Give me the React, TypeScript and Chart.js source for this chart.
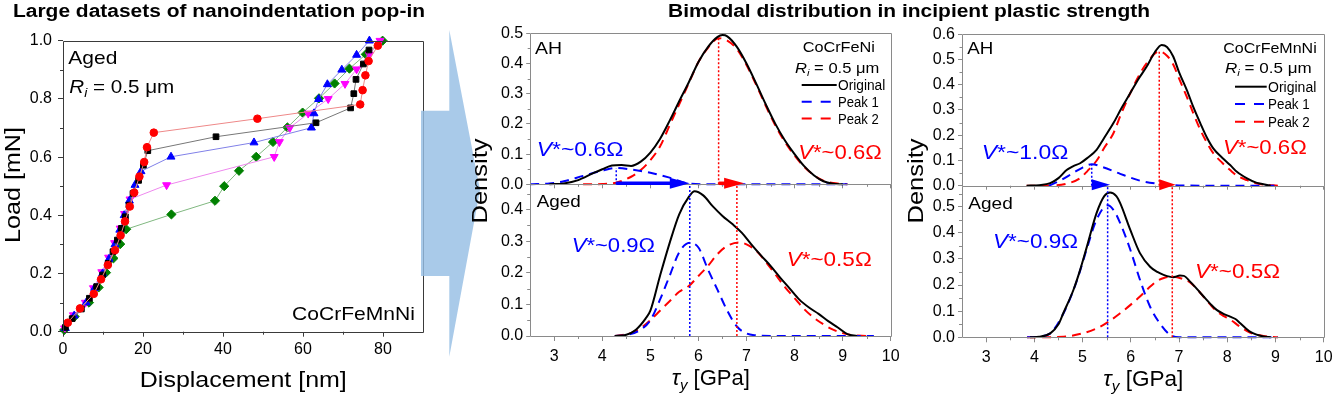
import React, { useEffect, useRef } from "react";
import { Chart, registerables } from "chart.js";

Chart.register(...registerables);

const FONT = "'Liberation Sans', Arial, Helvetica, sans-serif";
const PAGE_W = 1333;
const PAGE_H = 397;

/* ---------------- Left panel: load vs displacement ---------------- */
const dispXTicks = [0, 20, 40, 60, 80];
const dispXMinor = [10, 30, 50, 70];
const loadYTicks = [0, 0.2, 0.4, 0.6, 0.8, 1.0];
const loadYMinor = [0.1, 0.3, 0.5, 0.7, 0.9];

const redDisp = [1.2, 4.25, 7.7, 9.5, 11.2, 13.0, 14.4, 15.5, 16.7, 17.8, 19.1, 20.3, 21.0, 22.7, 48.6, 74.3, 74.9, 75.6, 76.4, 78.7];
const redLoad = [0.031, 0.08, 0.13, 0.18, 0.229, 0.28, 0.331, 0.379, 0.43, 0.478, 0.533, 0.583, 0.634, 0.684, 0.732, 0.781, 0.83, 0.881, 0.93, 0.983];

const blackDisp = [0.6, 2.3, 4.6, 6.6, 8.4, 9.9, 11.3, 12.5, 13.6, 14.6, 15.6, 16.5, 17.5, 18.9, 20.1, 21.2, 38.25, 63.25, 71.9, 72.7, 73.25, 75.1, 76.5];
const blackLoad = [0.015, 0.045, 0.078, 0.115, 0.155, 0.195, 0.235, 0.275, 0.315, 0.355, 0.395, 0.435, 0.475, 0.52, 0.572, 0.622, 0.67, 0.718, 0.769, 0.818, 0.867, 0.92, 0.968];

const blueDisp = [0.6, 2.8, 5.8, 7.9, 9.9, 11.5, 13.0, 14.2, 15.3, 16.6, 18.0, 19.5, 27.0, 47.75, 62.1, 62.75, 63.9, 66.1, 69.7, 73.4, 76.6];
const blueLoad = [0.012, 0.055, 0.1, 0.15, 0.2, 0.25, 0.3, 0.35, 0.4, 0.45, 0.504, 0.551, 0.601, 0.65, 0.701, 0.75, 0.799, 0.85, 0.9, 0.951, 1.0];

const magentaDisp = [0.4, 2.6, 5.6, 7.6, 9.7, 11.4, 12.9, 14.3, 15.4, 16.75, 25.9, 52.8, 54.1, 56.7, 61.3, 66.3, 70.5, 73.4, 76.6, 79.25];
const magentaLoad = [0.012, 0.057, 0.1, 0.15, 0.205, 0.255, 0.305, 0.355, 0.405, 0.455, 0.504, 0.601, 0.652, 0.701, 0.75, 0.8, 0.852, 0.902, 0.952, 1.0];

const greenDisp = [0.3, 2.9, 6.5, 8.9, 10.75, 12.6, 14.3, 15.8, 27.1, 38.0, 40.3, 44.0, 48.3, 52.5, 56.1, 59.9, 64.0, 67.9, 71.6, 75.7, 79.9];
const greenLoad = [0.006, 0.052, 0.1, 0.152, 0.203, 0.252, 0.301, 0.352, 0.403, 0.45, 0.5, 0.553, 0.601, 0.652, 0.702, 0.753, 0.802, 0.853, 0.904, 0.953, 1.0];

/* ---------------- Density panels ---------------- */
const tauTicks = [3, 4, 5, 6, 7, 8, 9, 10];
const tauMinor = [3.5, 4.5, 5.5, 6.5, 7.5, 8.5, 9.5];

// CoCrFeNi, AH
const feNiAH_origTau = [2.9, 3.2, 3.5, 3.8, 4.0, 4.2, 4.4, 4.6, 4.8, 5.0, 5.2, 5.4, 5.6, 5.8, 6.0, 6.2, 6.4, 6.5, 6.6, 6.8, 7.0, 7.2, 7.4, 7.6, 7.8, 8.0, 8.2, 8.4, 8.6, 8.8, 9.0];
const feNiAH_orig = [0, 0.003, 0.014, 0.036, 0.05, 0.062, 0.064, 0.061, 0.075, 0.105, 0.15, 0.21, 0.275, 0.338, 0.405, 0.455, 0.488, 0.494, 0.49, 0.455, 0.4, 0.334, 0.265, 0.2, 0.145, 0.1, 0.06, 0.03, 0.01, 0.002, 0];
const feNiAH_p1Tau = [2.5, 2.9, 3.2, 3.6, 4.0, 4.29, 4.6, 5.0, 5.4, 5.82, 6.2, 7.0, 8.0, 9.1];
const feNiAH_p1 = [0, 0.003, 0.01, 0.028, 0.045, 0.054, 0.049, 0.038, 0.022, 0.002, 0, 0, 0, 0];
const feNiAH_p2Tau = [3.6, 4.0, 4.3, 4.6, 4.8, 5.0, 5.2, 5.4, 5.6, 5.8, 6.0, 6.2, 6.42, 6.6, 6.8, 7.0, 7.2, 7.4, 7.6, 7.8, 8.0, 8.2, 8.4, 8.6, 8.8, 9.1];
const feNiAH_p2 = [0, 0.001, 0.006, 0.025, 0.047, 0.08, 0.125, 0.195, 0.265, 0.335, 0.405, 0.452, 0.484, 0.476, 0.448, 0.395, 0.33, 0.26, 0.195, 0.14, 0.095, 0.058, 0.03, 0.012, 0.004, 0];

// CoCrFeNi, Aged
const feNiAged_origTau = [4.26, 4.5, 4.7, 4.9, 5.0, 5.2, 5.4, 5.6, 5.8, 5.92, 6.1, 6.3, 6.5, 6.7, 6.9, 7.1, 7.3, 7.5, 7.7, 7.9, 8.1, 8.3, 8.5, 8.7, 8.9, 9.1, 9.3];
const feNiAged_orig = [0, 0.004, 0.02, 0.055, 0.08, 0.19, 0.294, 0.385, 0.44, 0.458, 0.445, 0.41, 0.38, 0.355, 0.327, 0.29, 0.255, 0.222, 0.185, 0.15, 0.115, 0.09, 0.07, 0.047, 0.027, 0.006, 0];
const feNiAged_p1Tau = [4.26, 4.5, 4.8, 5.0, 5.2, 5.4, 5.6, 5.82, 6.0, 6.2, 6.4, 6.6, 6.8, 7.0, 7.2, 7.5, 8.5, 9.65];
const feNiAged_p1 = [0, 0.003, 0.02, 0.05, 0.115, 0.19, 0.265, 0.295, 0.28, 0.21, 0.145, 0.08, 0.03, 0.008, 0.002, 0, 0, 0];
const feNiAged_p2Tau = [4.26, 4.6, 4.8, 5.0, 5.2, 5.4, 5.6, 5.8, 6.0, 6.2, 6.4, 6.6, 6.85, 7.0, 7.2, 7.4, 7.6, 7.8, 8.0, 8.2, 8.4, 8.6, 8.8, 9.0, 9.2, 9.5];
const feNiAged_p2 = [0, 0.01, 0.025, 0.05, 0.08, 0.11, 0.14, 0.158, 0.19, 0.222, 0.26, 0.285, 0.296, 0.29, 0.27, 0.235, 0.195, 0.155, 0.12, 0.085, 0.058, 0.037, 0.02, 0.009, 0.003, 0];

// CoCrFeMnNi, AH
const mnNiAH_origTau = [3.84, 4.1, 4.33, 4.5, 4.67, 4.8, 4.95, 5.1, 5.29, 5.45, 5.64, 5.8, 5.99, 6.15, 6.33, 6.5, 6.64, 6.75, 6.88, 7.0, 7.16, 7.3, 7.44, 7.58, 7.71, 7.9, 8.06, 8.2, 8.41, 8.6, 8.75, 8.9];
const mnNiAH_orig = [0, 0.002, 0.01, 0.03, 0.062, 0.077, 0.089, 0.11, 0.142, 0.19, 0.248, 0.305, 0.367, 0.42, 0.472, 0.53, 0.558, 0.55, 0.512, 0.45, 0.38, 0.31, 0.248, 0.19, 0.148, 0.11, 0.082, 0.055, 0.029, 0.012, 0.006, 0];
const mnNiAH_p1Tau = [4.3, 4.53, 4.8, 5.0, 5.19, 5.4, 5.78, 6.19, 6.6, 7.0, 8.0, 9.03];
const mnNiAH_p1 = [0, 0.02, 0.05, 0.072, 0.085, 0.075, 0.047, 0.02, 0.007, 0.001, 0, 0];
const mnNiAH_p2Tau = [3.84, 4.3, 4.67, 4.95, 5.1, 5.29, 5.45, 5.64, 5.8, 5.99, 6.15, 6.33, 6.59, 6.75, 6.88, 7.0, 7.16, 7.3, 7.44, 7.58, 7.71, 7.9, 8.06, 8.2, 8.41, 8.6, 8.75, 9.05];
const mnNiAH_p2 = [0, 0.001, 0.008, 0.03, 0.058, 0.099, 0.15, 0.208, 0.285, 0.367, 0.43, 0.486, 0.532, 0.515, 0.48, 0.425, 0.353, 0.285, 0.222, 0.17, 0.129, 0.09, 0.062, 0.04, 0.022, 0.01, 0.005, 0];

// CoCrFeMnNi, Aged
const mnNiAged_origTau = [3.91, 4.1, 4.33, 4.5, 4.6, 4.81, 4.95, 5.09, 5.29, 5.45, 5.57, 5.7, 5.78, 5.99, 6.19, 6.4, 6.55, 6.68, 6.88, 7.02, 7.1, 7.23, 7.37, 7.51, 7.65, 7.78, 7.92, 8.06, 8.17, 8.27, 8.48, 8.75, 8.9];
const mnNiAged_orig = [0, 0.002, 0.015, 0.05, 0.092, 0.181, 0.258, 0.347, 0.475, 0.54, 0.554, 0.54, 0.513, 0.411, 0.322, 0.27, 0.25, 0.239, 0.23, 0.236, 0.235, 0.213, 0.185, 0.156, 0.128, 0.105, 0.09, 0.079, 0.07, 0.054, 0.021, 0.003, 0];
const mnNiAged_p1Tau = [3.85, 4.1, 4.33, 4.6, 4.81, 4.95, 5.09, 5.29, 5.52, 5.65, 5.78, 5.99, 6.19, 6.4, 6.6, 6.81, 7.0, 8.0, 9.05];
const mnNiAged_p1 = [0, 0.003, 0.015, 0.09, 0.18, 0.255, 0.34, 0.45, 0.505, 0.485, 0.437, 0.335, 0.22, 0.117, 0.054, 0.01, 0, 0, 0];
const mnNiAged_p2Tau = [3.85, 4.6, 5.0, 5.29, 5.5, 5.78, 6.0, 6.19, 6.35, 6.54, 6.7, 6.86, 7.05, 7.23, 7.37, 7.51, 7.65, 7.78, 7.92, 8.06, 8.27, 8.48, 8.75, 9.05];
const mnNiAged_p2 = [0, 0.002, 0.015, 0.034, 0.055, 0.092, 0.125, 0.156, 0.185, 0.215, 0.228, 0.232, 0.225, 0.21, 0.185, 0.155, 0.125, 0.1, 0.082, 0.068, 0.04, 0.017, 0.005, 0];

// Peak markers, arrows and activation-volume labels
const feNiAHPeakTau = [4.29, 6.42];
const feNiAHPeakDensity = [0.054, 0.484];
const feNiAgedPeakTau = [5.82, 6.8];
const feNiArrowTip = [5.82, 6.95];
const feNiVolAH = ["0.6", "0.6"];
const feNiVolAged = ["0.9", "0.5"];

const mnNiAHPeakTau = [5.19, 6.59];
const mnNiAHPeakDensity = [0.085, 0.532];
const mnNiAgedPeakTau = [5.52, 6.86];
const mnNiArrowTip = [5.57, 6.93];
const mnNiVolAH = ["1.0", "0.6"];
const mnNiVolAged = ["0.9", "0.5"];

const feNiTopY = [0, 0.1, 0.2, 0.3, 0.4, 0.5];
const feNiBotY = [0, 0.1, 0.2, 0.3, 0.4];
const mnNiTopY = [0, 0.1, 0.2, 0.3, 0.4, 0.5, 0.6];
const mnNiBotY = [0, 0.1, 0.2, 0.3, 0.4, 0.5];
const yMinor5 = [0.05, 0.15, 0.25, 0.35, 0.45];
const yMinor6 = [0.05, 0.15, 0.25, 0.35, 0.45, 0.55];

const BLUE = "#0000ff";
const RED = "#ff0000";
const GRAY = "#8a8a8a";
const DARK = "#3a3a3a";

/* ---------------- drawing helpers ---------------- */
type Seg = { t: string; it?: boolean; sub?: boolean };
type TxtOpt = { align?: "left" | "center" | "right"; w?: number; color?: string; rot?: number; bold?: boolean };

function drawRich(ctx: any, segs: Seg[], x: number, y: number, size: number, o: TxtOpt = {}) {
  const fontOf = (s: Seg) => `${s.it ? "italic " : ""}${o.bold ? "bold " : ""}${s.sub ? size * 0.68 : size}px ${FONT}`;
  let nat = 0;
  const widths = segs.map((s) => {
    ctx.font = fontOf(s);
    const w = ctx.measureText(s.t).width;
    nat += w;
    return w;
  });
  const sx = o.w ? o.w / nat : 1;
  const start = o.align === "center" ? -nat / 2 : o.align === "right" ? -nat : 0;
  ctx.save();
  ctx.translate(x, y);
  if (o.rot) ctx.rotate(o.rot);
  ctx.scale(sx, 1);
  ctx.fillStyle = o.color || "#000";
  ctx.textBaseline = "alphabetic";
  ctx.textAlign = "left";
  let cx = start;
  const base = size * 0.358;
  segs.forEach((s, i) => {
    ctx.font = fontOf(s);
    ctx.fillText(s.t, cx, base + (s.sub ? size * 0.22 : 0));
    cx += widths[i];
  });
  ctx.restore();
}

const txt = (ctx: any, t: string, x: number, y: number, size: number, o: TxtOpt = {}) => drawRich(ctx, [{ t }], x, y, size, o);

function frame(ctx: any, a: any, color: string, sides = "tlbr") {
  const l = Math.round(a.left) + 0.5, r = Math.round(a.right) + 0.5;
  const t = Math.round(a.top) + 0.5, b = Math.round(a.bottom) + 0.5;
  ctx.save();
  ctx.strokeStyle = color;
  ctx.lineWidth = 1;
  ctx.beginPath();
  if (sides.includes("t")) { ctx.moveTo(l, t); ctx.lineTo(r, t); }
  if (sides.includes("b")) { ctx.moveTo(l, b); ctx.lineTo(r, b); }
  if (sides.includes("l")) { ctx.moveTo(l, t); ctx.lineTo(l, b); }
  if (sides.includes("r")) { ctx.moveTo(r, t); ctx.lineTo(r, b); }
  ctx.stroke();
  ctx.restore();
}

function minorTicks(ctx: any, chart: any, xs: number[], ys: number[], len: number, color: string) {
  const sx = chart.scales.x, sy = chart.scales.y, a = chart.chartArea;
  ctx.save();
  ctx.strokeStyle = color;
  ctx.lineWidth = 1;
  ctx.beginPath();
  xs.forEach((v) => {
    const p = Math.round(sx.getPixelForValue(v)) + 0.5;
    ctx.moveTo(p, a.bottom);
    ctx.lineTo(p, a.bottom + len);
  });
  ys.forEach((v) => {
    const p = Math.round(sy.getPixelForValue(v)) + 0.5;
    ctx.moveTo(a.left, p);
    ctx.lineTo(a.left - len, p);
  });
  ctx.stroke();
  ctx.restore();
}

function vDotted(ctx: any, x: number, y0: number, y1: number, color: string) {
  ctx.save();
  ctx.strokeStyle = color;
  ctx.lineWidth = 1.5;
  ctx.setLineDash([2, 2]);
  ctx.beginPath();
  ctx.moveTo(x, y0);
  ctx.lineTo(x, y1);
  ctx.stroke();
  ctx.restore();
}

function arrow(ctx: any, x0: number, x1: number, y: number, color: string) {
  const head = Math.min(20, x1 - x0);
  ctx.save();
  ctx.fillStyle = color;
  ctx.strokeStyle = color;
  if (x1 - head > x0) {
    ctx.lineWidth = 3.5;
    ctx.beginPath();
    ctx.moveTo(x0, y);
    ctx.lineTo(x1 - head + 1, y);
    ctx.stroke();
  }
  ctx.beginPath();
  ctx.moveTo(x1, y);
  ctx.lineTo(x1 - head, y - 5.5);
  ctx.lineTo(x1 - head, y + 5.5);
  ctx.closePath();
  ctx.fill();
  ctx.restore();
}

function axis(kind: "x" | "y", min: number, max: number, ticks: number[], labels: boolean, size: number, fontSize: number, pad: number, color: string, tickLen: number, fmt: (v: number) => string) {
  return {
    type: "linear",
    position: kind === "x" ? "bottom" : "left",
    min,
    max,
    afterBuildTicks: (s: any) => {
      s.ticks = ticks.map((v) => ({ value: v }));
    },
    afterFit: (s: any) => {
      if (kind === "x") s.height = size;
      else s.width = size;
      s.paddingLeft = 0;
      s.paddingRight = 0;
      s.paddingTop = 0;
      s.paddingBottom = 0;
    },
    ticks: {
      display: labels,
      autoSkip: false,
      maxRotation: 0,
      minRotation: 0,
      padding: pad,
      color: "#000",
      font: { family: FONT, size: fontSize },
      callback: (v: any) => fmt(Number(v)),
    },
    grid: { display: true, drawOnChartArea: false, drawTicks: true, tickLength: tickLen, color, lineWidth: 1 },
    border: { display: false },
  };
}

const baseOptions = (box: any, yW: number, xH: number) => ({
  responsive: false,
  animation: false,
  events: [],
  layout: { padding: { left: box.L - yW, top: box.T, right: PAGE_W - box.R, bottom: PAGE_H - box.B - xH } },
  plugins: { legend: { display: false }, tooltip: { enabled: false }, title: { display: false } },
});

/* ---------------- left chart ---------------- */
function leftConfig() {
  const box = { L: 63, T: 40.7, R: 423, B: 331.7 };
  const series = [
    { d: redDisp, l: redLoad, line: "#ee8888", fill: RED, style: "circle", r: 3.8, rot: 0 },
    { d: blackDisp, l: blackLoad, line: "#777777", fill: "#000000", style: "rect", r: 4, rot: 0 },
    { d: blueDisp, l: blueLoad, line: "#8080e8", fill: BLUE, style: "triangle", r: 4.6, rot: 0 },
    { d: magentaDisp, l: magentaLoad, line: "#ee88ee", fill: "#ff00ff", style: "triangle", r: 4.6, rot: 180 },
    { d: greenDisp, l: greenLoad, line: "#80b880", fill: "#008000", style: "rectRot", r: 4.6, rot: 0 },
  ];
  const deco = {
    id: "leftDeco",
    afterDraw(chart: any) {
      const ctx = chart.ctx;
      const a = chart.chartArea;
      frame(ctx, a, DARK);
      minorTicks(ctx, chart, dispXMinor, loadYMinor, 3, DARK);
      drawRich(ctx, [{ t: "Large datasets of nanoindentation pop-in" }], 219, 10.3, 18, { align: "center", w: 412, bold: true });
      txt(ctx, "Aged", 68.3, 57, 19, { w: 49 });
      drawRich(ctx, [{ t: "R", it: true }, { t: "i", it: true, sub: true }, { t: " = 0.5 μm" }], 69.3, 86.2, 19, { w: 105 });
      txt(ctx, "CoCrFeMnNi", 415, 313, 19, { align: "right", w: 123 });
      txt(ctx, "Displacement [nm]", 243.3, 379, 22, { align: "center", w: 207 });
      txt(ctx, "Load [mN]", 12.5, 185, 22, { align: "center", w: 116, rot: -Math.PI / 2 });
      // big transition arrow
      ctx.save();
      ctx.fillStyle = "rgba(150,190,228,0.82)";
      ctx.beginPath();
      ctx.moveTo(421, 110.7);
      ctx.lineTo(449.3, 110.7);
      ctx.lineTo(449.3, 30);
      ctx.lineTo(480, 190);
      ctx.lineTo(449.3, 356.7);
      ctx.lineTo(449.3, 276);
      ctx.lineTo(421, 276);
      ctx.closePath();
      ctx.fill();
      ctx.restore();
    },
  };
  return {
    type: "line",
    data: {
      datasets: series.map((s) => ({
        data: s.d.map((x, i) => ({ x, y: s.l[i] })),
        borderColor: s.line,
        borderWidth: 1,
        backgroundColor: s.fill,
        pointBackgroundColor: s.fill,
        pointBorderColor: s.fill,
        pointBorderWidth: 1,
        pointStyle: s.style,
        pointRadius: s.r,
        pointRotation: s.rot,
        tension: 0,
        fill: false,
        clip: 8,
      })),
    },
    options: {
      ...baseOptions(box, 63, 40),
      scales: {
        x: axis("x", 0, 90, dispXTicks, true, 40, 16, 3, DARK, 5, (v) => String(v)),
        y: axis("y", 0, 1.0, loadYTicks, true, 63, 16, 6, DARK, 5, (v) => v.toFixed(1)),
      },
    },
    plugins: [deco],
  };
}

/* ---------------- density charts ---------------- */
const curve = (t: number[], d: number[], color: string, dash: number[]) => ({
  data: t.map((x, i) => ({ x, y: d[i] })),
  borderColor: color,
  borderWidth: 2,
  borderDash: dash,
  pointRadius: 0,
  fill: false,
  cubicInterpolationMode: "monotone",
  clip: 3,
});

function densityConfig(box: any, top: boolean, yMax: number, yTicks: number[], curves: any[], deco: any) {
  const yW = 80;
  const xH = top ? 6 : 45;
  return {
    type: "line",
    data: { datasets: curves },
    options: {
      ...baseOptions(box, yW, xH),
      scales: {
        x: axis("x", 2.5, 10, tauTicks, !top, xH, 16, 6, GRAY, top ? 4 : 5, (v) => String(v)),
        y: axis("y", 0, yMax, yTicks, true, yW, 16, 3, GRAY, 4, (v) => v.toFixed(1)),
      },
    },
    plugins: [deco],
  };
}

const vSegs = (v: string): Seg[] => [{ t: "V", it: true }, { t: "*~" + v + "Ω" }];

function topDeco(id: string, L: any, alloy: string, peaks: number[], heights: number[], tips: number[], vols: string[], yMinor: number[], extra?: (ctx: any) => void) {
  return {
    id,
    afterDraw(chart: any) {
      const ctx = chart.ctx;
      const a = chart.chartArea;
      const sx = chart.scales.x, sy = chart.scales.y;
      frame(ctx, a, GRAY);
      minorTicks(ctx, chart, tauMinor, yMinor, 2.5, GRAY);
      const cols = [BLUE, RED];
      peaks.forEach((p, i) => vDotted(ctx, sx.getPixelForValue(p), a.bottom, sy.getPixelForValue(heights[i]), cols[i]));
      peaks.forEach((p, i) => arrow(ctx, sx.getPixelForValue(p), sx.getPixelForValue(tips[i]), a.bottom - 1, cols[i]));
      txt(ctx, "AH", L.ah.x, L.ah.y, 17, { w: L.ah.w });
      txt(ctx, alloy, L.name.x, L.name.y, 14, { align: "center", w: L.name.w });
      drawRich(ctx, [{ t: "R", it: true }, { t: "i", it: true, sub: true }, { t: " = 0.5 μm" }], L.ri.x, L.ri.y, 14, { align: "center", w: L.ri.w });
      // legend
      const lg = L.leg;
      const legCols = ["#000", BLUE, RED];
      const legNames = ["Original", "Peak 1", "Peak 2"];
      legCols.forEach((c, i) => {
        ctx.save();
        ctx.strokeStyle = c;
        ctx.lineWidth = 2;
        if (i > 0) ctx.setLineDash([10, 9]);
        ctx.beginPath();
        ctx.moveTo(lg.x0, lg.ys[i]);
        ctx.lineTo(lg.x1, lg.ys[i]);
        ctx.stroke();
        ctx.restore();
        txt(ctx, legNames[i], lg.tx, lg.ys[i], 14, { w: lg.ws[i] });
      });
      vols.forEach((v, i) => drawRich(ctx, vSegs(v), L.vAH[i].x, L.vAH[i].y, 21, { w: L.vAH[i].w, color: cols[i] }));
      if (extra) extra(ctx);
    },
  };
}

function botDeco(id: string, L: any, peaks: number[], vols: string[], yMinor: number[]) {
  return {
    id,
    afterDraw(chart: any) {
      const ctx = chart.ctx;
      const a = chart.chartArea;
      const sx = chart.scales.x;
      frame(ctx, a, GRAY, "lbr");
      minorTicks(ctx, chart, tauMinor, yMinor, 3, GRAY);
      const cols = [BLUE, RED];
      peaks.forEach((p, i) => vDotted(ctx, sx.getPixelForValue(p), a.bottom, a.top, cols[i]));
      txt(ctx, "Aged", L.aged.x, L.aged.y, 17, { w: L.aged.w });
      vols.forEach((v, i) => drawRich(ctx, vSegs(v), L.vAged[i].x, L.vAged[i].y, 21, { w: L.vAged[i].w, color: cols[i] }));
      txt(ctx, "Density", L.dens.x, L.dens.y, 22, { align: "center", w: 85, rot: -Math.PI / 2 });
      drawRich(ctx, [{ t: "τ", it: true }, { t: "y", it: true, sub: true }, { t: " [GPa]" }], L.tau.x, L.tau.y, 22, { align: "center", w: L.tau.w });
    },
  };
}

const MID = {
  top: { L: 530.2, T: 33.3, R: 890.7, B: 184.3 },
  bot: { L: 530.2, T: 184.3, R: 890.7, B: 336 },
  ah: { x: 535, y: 47.5, w: 27 },
  name: { x: 838.8, y: 46.7, w: 72.3 },
  ri: { x: 837.2, y: 68.3, w: 84.3 },
  leg: { x0: 801.7, x1: 836.7, tx: 838, ys: [85, 101.7, 118.5], ws: [47.3, 40.7, 40.7] },
  vAH: [{ x: 536.7, y: 148, w: 86.6 }, { x: 798.3, y: 151.5, w: 83.4 }],
  aged: { x: 536.7, y: 200.8, w: 44 },
  vAged: [{ x: 571.7, y: 244.7, w: 83.3 }, { x: 786.7, y: 258, w: 85 }],
  dens: { x: 479.5, y: 181 },
  tau: { x: 710.8, y: 377, w: 78.3 },
};

const RIGHT = {
  top: { L: 962, T: 34.3, R: 1323.7, B: 185.7 },
  bot: { L: 962, T: 185.7, R: 1323.7, B: 337.3 },
  ah: { x: 967.3, y: 47.5, w: 26 },
  name: { x: 1270, y: 48.3, w: 93.4 },
  ri: { x: 1268.3, y: 68.3, w: 86.7 },
  leg: { x0: 1235, x1: 1266.7, tx: 1268, ys: [86.7, 104, 121.7], ws: [48.3, 41.7, 41.7] },
  vAH: [{ x: 981.7, y: 151.3, w: 86.6 }, { x: 1223, y: 146.2, w: 83.7 }],
  aged: { x: 968.3, y: 202.5, w: 44.4 },
  vAged: [{ x: 993, y: 240, w: 85 }, { x: 1195, y: 270, w: 85 }],
  dens: { x: 915, y: 181 },
  tau: { x: 1143.3, y: 378, w: 80 },
};

export default function App() {
  const r0 = useRef<HTMLCanvasElement>(null);
  const r1 = useRef<HTMLCanvasElement>(null);
  const r2 = useRef<HTMLCanvasElement>(null);
  const r3 = useRef<HTMLCanvasElement>(null);
  const r4 = useRef<HTMLCanvasElement>(null);
  const refs = [r0, r1, r2, r3, r4];

  useEffect(() => {
    const charts: any[] = [];
    const c = refs.map((r) => r.current as HTMLCanvasElement);

    charts.push(new Chart(c[0], leftConfig() as any));

    charts.push(
      new Chart(
        c[1],
        densityConfig(
          MID.top, true, 0.5, feNiTopY,
          [
            curve(feNiAH_origTau, feNiAH_orig, "#000", []),
            curve(feNiAH_p1Tau, feNiAH_p1, BLUE, [9, 6]),
            curve(feNiAH_p2Tau, feNiAH_p2, RED, [9, 6]),
          ],
          topDeco("feNiTop", MID, "CoCrFeNi", feNiAHPeakTau, feNiAHPeakDensity, feNiArrowTip, feNiVolAH, yMinor5, (ctx) =>
            drawRich(ctx, [{ t: "Bimodal distribution in incipient plastic strength" }], 909, 10.3, 18, { align: "center", w: 482, bold: true })
          )
        ) as any
      )
    );

    charts.push(
      new Chart(
        c[2],
        densityConfig(
          MID.bot, false, 0.48, feNiBotY,
          [
            curve(feNiAged_origTau, feNiAged_orig, "#000", []),
            curve(feNiAged_p1Tau, feNiAged_p1, BLUE, [9, 6]),
            curve(feNiAged_p2Tau, feNiAged_p2, RED, [9, 6]),
          ],
          botDeco("feNiBot", MID, feNiAgedPeakTau, feNiVolAged, yMinor5)
        ) as any
      )
    );

    charts.push(
      new Chart(
        c[3],
        densityConfig(
          RIGHT.top, true, 0.6, mnNiTopY,
          [
            curve(mnNiAH_origTau, mnNiAH_orig, "#000", []),
            curve(mnNiAH_p1Tau, mnNiAH_p1, BLUE, [9, 6]),
            curve(mnNiAH_p2Tau, mnNiAH_p2, RED, [9, 6]),
          ],
          topDeco("mnNiTop", RIGHT, "CoCrFeMnNi", mnNiAHPeakTau, mnNiAHPeakDensity, mnNiArrowTip, mnNiVolAH, yMinor6)
        ) as any
      )
    );

    charts.push(
      new Chart(
        c[4],
        densityConfig(
          RIGHT.bot, false, 0.58, mnNiBotY,
          [
            curve(mnNiAged_origTau, mnNiAged_orig, "#000", []),
            curve(mnNiAged_p1Tau, mnNiAged_p1, BLUE, [9, 6]),
            curve(mnNiAged_p2Tau, mnNiAged_p2, RED, [9, 6]),
          ],
          botDeco("mnNiBot", RIGHT, mnNiAgedPeakTau, mnNiVolAged, yMinor6)
        ) as any
      )
    );

    return () => charts.forEach((ch) => ch.destroy());
  }, []);

  const cs: any = { position: "absolute", left: 0, top: 0, width: PAGE_W, height: PAGE_H };
  return (
    <div style={{ position: "absolute", left: 0, top: 0, width: PAGE_W, height: PAGE_H, background: "#fff", overflow: "hidden" }}>
      {refs.map((r, i) => (
        <canvas key={i} ref={r} width={PAGE_W} height={PAGE_H} style={cs} />
      ))}
    </div>
  );
}
